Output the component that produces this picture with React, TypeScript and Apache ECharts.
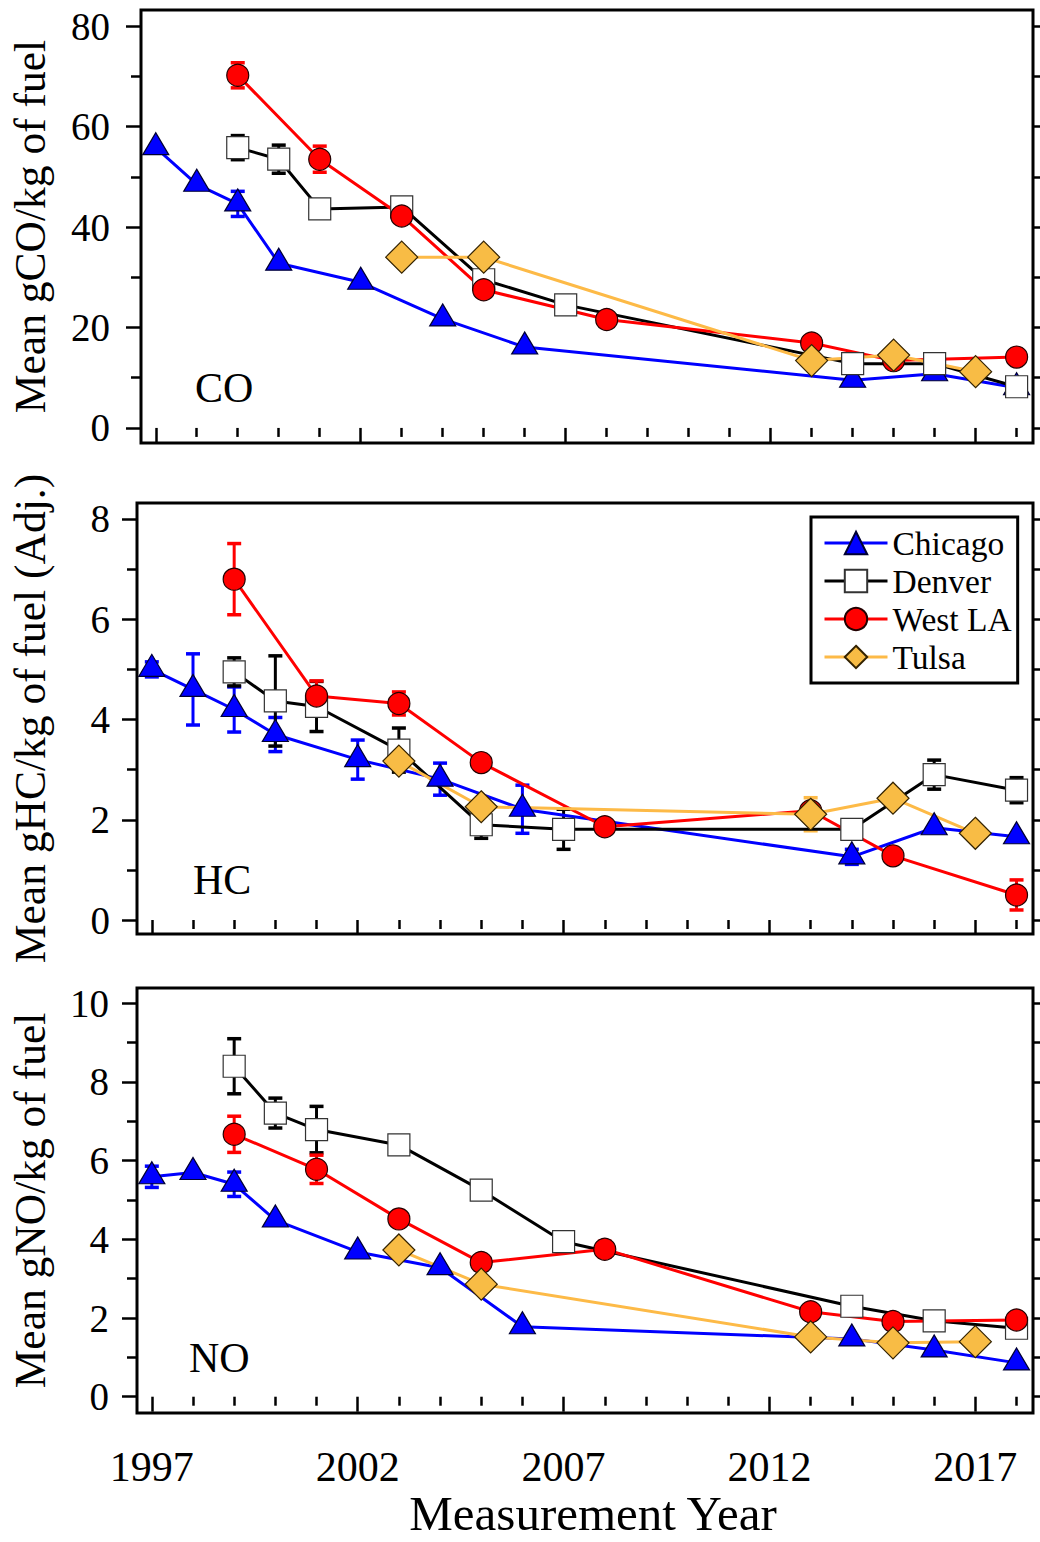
import React, { useEffect, useRef } from 'react';
import * as echarts from 'echarts';

// ---------- data ----------
const CITIES = ['Chicago', 'Denver', 'West LA', 'Tulsa'];

const CHICAGO_YEARS = [1997, 1998, 1999, 2000, 2002, 2004, 2006, 2014, 2016, 2018];
const DENVER_YEARS = [1999, 2000, 2001, 2003, 2005, 2007, 2014, 2016, 2018];
const WESTLA_YEARS = [1999, 2001, 2003, 2005, 2008, 2013, 2015, 2018];
const TULSA_YEARS = [2003, 2005, 2013, 2015, 2017];

// CO (g/kg)
const CHICAGO_CO = [55.8, 48.5, 44.6, 32.8, 29.0, 21.7, 16.1, 9.5, 10.8, 8.0];
const DENVER_CO = [55.8, 53.5, 43.6, 44.0, 29.5, 24.5, 12.8, 12.8, 8.2];
const WESTLA_CO = [70.2, 53.5, 42.2, 27.5, 21.6, 16.9, 13.4, 14.1];
const TULSA_CO = [34.0, 34.0, 13.4, 14.5, 11.2];
const CHICAGO_CO_ERR = [0, 0, 2.5, 0, 0, 0, 0, 0, 0, 0];
const DENVER_CO_ERR = [2.4, 2.8, 0, 0, 0, 0, 0, 0, 0];
const WESTLA_CO_ERR = [2.5, 2.6, 0, 0, 0, 0, 0, 0];
const TULSA_CO_ERR = [0, 0, 0, 0, 0];

// HC (g/kg, adj.)
const CHICAGO_HC = [5.0, 4.6, 4.2, 3.7, 3.2, 2.81, 2.21, 1.26, 1.84, 1.66];
const DENVER_HC = [4.95, 4.37, 4.26, 3.39, 1.9, 1.81, 1.81, 2.9, 2.59];
const WESTLA_HC = [6.8, 4.47, 4.32, 3.14, 1.86, 2.18, 1.28, 0.5];
const TULSA_HC = [3.17, 2.26, 2.11, 2.43, 1.73];
const CHICAGO_HC_ERR = [0.15, 0.71, 0.45, 0.34, 0.39, 0.32, 0.48, 0.15, 0, 0];
const DENVER_HC_ERR = [0.28, 0.9, 0.5, 0.44, 0.27, 0.4, 0, 0.29, 0.25];
const WESTLA_HC_ERR = [0.71, 0.3, 0.23, 0, 0, 0, 0, 0.3];
const TULSA_HC_ERR = [0, 0, 0.33, 0, 0];

// NO (g/kg)
const CHICAGO_NO = [5.59, 5.7, 5.4, 4.49, 3.68, 3.28, 1.78, 1.47, 1.19, 0.86];
const DENVER_NO = [8.4, 7.21, 6.79, 6.4, 5.25, 3.94, 2.3, 1.93, 1.74];
const WESTLA_NO = [6.67, 5.78, 4.52, 3.41, 3.75, 2.16, 1.91, 1.95];
const TULSA_NO = [3.73, 2.86, 1.52, 1.37, 1.4];
const CHICAGO_NO_ERR = [0.27, 0, 0.31, 0, 0, 0, 0, 0, 0, 0];
const DENVER_NO_ERR = [0.7, 0.38, 0.59, 0, 0, 0, 0, 0, 0];
const WESTLA_NO_ERR = [0.46, 0.36, 0, 0, 0.2, 0, 0, 0];
const TULSA_NO_ERR = [0, 0, 0, 0, 0];

// ticks
const YEAR_MAJOR = [1997, 2002, 2007, 2012, 2017];
const YEAR_MINOR = [1998, 1999, 2000, 2001, 2003, 2004, 2005, 2006, 2008, 2009, 2010, 2011, 2013, 2014, 2015, 2016, 2018];
const CO_MAJOR = [0, 20, 40, 60, 80];
const CO_MINOR = [10, 30, 50, 70];
const CO_ALL = [0, 10, 20, 30, 40, 50, 60, 70, 80];
const HC_MAJOR = [0, 2, 4, 6, 8];
const HC_MINOR = [1, 3, 5, 7];
const HC_ALL = [0, 1, 2, 3, 4, 5, 6, 7, 8];
const NO_MAJOR = [0, 2, 4, 6, 8, 10];
const NO_MINOR = [1, 3, 5, 7, 9];
const NO_ALL = [0, 1, 2, 3, 4, 5, 6, 7, 8, 9, 10];

const Y_TITLES = ['Mean gCO/kg of fuel', 'Mean gHC/kg of fuel (Adj.)', 'Mean gNO/kg of fuel'];
const PANEL_LABELS = ['CO', 'HC', 'NO'];
const X_TITLE = 'Measurement Year';

// ---------- styling ----------
const FONT = '"Liberation Serif", "Times New Roman", serif';
const COLORS = ['#0000FF', '#000000', '#FF0000', '#FDBA47'];
const FILLS = ['#0000FF', '#FFFFFF', '#FF0000', '#F8BC45'];
const SYMBOLS = ['triangle', 'rect', 'circle', 'diamond'];
const SYMBOL_SIZES: any[] = [[26, 22], 22, 22, 32];
const SYMBOL_OFFSETS: any[] = [[0, -4], [0, 0], [0, 0], [0, 0]];
const BORDER_COLORS = ['#000033', '#333333', '#220000', '#332200'];

const GRIDS = [
  { left: 141, top: 10, right: 7, height: 433 },
  { left: 137, top: 503, right: 7, height: 431 },
  { left: 136, top: 988, right: 7, height: 425 },
];
const Y_RANGES = [
  [-3, 83.2],
  [-0.279, 8.319],
  [-0.414, 10.389],
];
const Y_LABEL_MARGIN = [31, 27, 28];
const Y_NAME_GAP = [89, 85, 85];
const LABEL_POS = [
  [195, 388],
  [193, 880],
  [189, 1358],
];

export default function App() {
  const ref = useRef<HTMLDivElement>(null);

  useEffect(() => {
    if (!ref.current) return;
    const chart = echarts.init(ref.current, undefined, { renderer: 'svg' });

    const years = [CHICAGO_YEARS, DENVER_YEARS, WESTLA_YEARS, TULSA_YEARS];
    const panelVals = [
      [CHICAGO_CO, DENVER_CO, WESTLA_CO, TULSA_CO],
      [CHICAGO_HC, DENVER_HC, WESTLA_HC, TULSA_HC],
      [CHICAGO_NO, DENVER_NO, WESTLA_NO, TULSA_NO],
    ];
    const panelErrs = [
      [CHICAGO_CO_ERR, DENVER_CO_ERR, WESTLA_CO_ERR, TULSA_CO_ERR],
      [CHICAGO_HC_ERR, DENVER_HC_ERR, WESTLA_HC_ERR, TULSA_HC_ERR],
      [CHICAGO_NO_ERR, DENVER_NO_ERR, WESTLA_NO_ERR, TULSA_NO_ERR],
    ];
    const yTicks = [
      [CO_MAJOR, CO_MINOR, CO_ALL],
      [HC_MAJOR, HC_MINOR, HC_ALL],
      [NO_MAJOR, NO_MINOR, NO_ALL],
    ];

    const tickLine = { color: '#000', width: 2.5 };
    const xAxis: any[] = [];
    const yAxis: any[] = [];
    const series: any[] = [];

    for (let p = 0; p < 3; p++) {
      const isBottom = p === 2;
      xAxis.push({
        gridIndex: p,
        type: 'value',
        position: 'bottom',
        min: 1996.64,
        max: 2018.4,
        axisLine: { show: false },
        splitLine: { show: false },
        axisTick: { show: true, customValues: YEAR_MAJOR, length: 15, lineStyle: tickLine },
        axisLabel: isBottom
          ? {
              show: true,
              customValues: YEAR_MAJOR,
              formatter: (v: number) => String(v),
              fontFamily: FONT,
              fontSize: 42,
              color: '#000',
              margin: 33,
            }
          : { show: false },
        name: isBottom ? X_TITLE : '',
        nameLocation: 'middle',
        nameGap: 73,
        nameTextStyle: {
          fontFamily: FONT,
          fontSize: 49,
          lineHeight: 49,
          color: '#000',
          padding: [0, 0, 0, 16],
        },
      });
      xAxis.push({
        gridIndex: p,
        type: 'value',
        position: 'bottom',
        min: 1996.64,
        max: 2018.4,
        axisLine: { show: false },
        splitLine: { show: false },
        axisTick: { show: true, customValues: YEAR_MINOR, length: 9, lineStyle: tickLine },
        axisLabel: { show: false },
      });

      const [major, minor, all] = yTicks[p];
      const [ymin, ymax] = Y_RANGES[p];
      yAxis.push({
        gridIndex: p,
        type: 'value',
        position: 'left',
        min: ymin,
        max: ymax,
        axisLine: { show: false },
        splitLine: { show: false },
        axisTick: { show: true, customValues: major, length: 15, lineStyle: tickLine },
        axisLabel: {
          show: true,
          customValues: major,
          formatter: (v: number) => String(v),
          fontFamily: FONT,
          fontSize: 39,
          color: '#000',
          margin: Y_LABEL_MARGIN[p],
        },
        name: Y_TITLES[p],
        nameLocation: 'middle',
        nameGap: Y_NAME_GAP[p],
        nameTextStyle: { fontFamily: FONT, fontSize: 43.5, color: '#000' },
      });
      yAxis.push({
        gridIndex: p,
        type: 'value',
        position: 'left',
        min: ymin,
        max: ymax,
        axisLine: { show: false },
        splitLine: { show: false },
        axisTick: { show: true, customValues: minor, length: 10, lineStyle: tickLine },
        axisLabel: { show: false },
      });
      yAxis.push({
        gridIndex: p,
        type: 'value',
        position: 'right',
        min: ymin,
        max: ymax,
        axisLine: { show: false },
        splitLine: { show: false },
        axisTick: { show: true, customValues: all, length: 8, lineStyle: tickLine },
        axisLabel: { show: false },
      });

      for (let c = 0; c < 4; c++) {
        const ys = years[c];
        const vals = panelVals[p][c];
        const errs = panelErrs[p][c];
        const errData = ys
          .map((yr, i) => (errs[i] > 0 ? [yr, vals[i] - errs[i], vals[i] + errs[i]] : null))
          .filter((d) => d !== null);
        const color = COLORS[c];
        if (errData.length) {
          series.push({
            type: 'custom',
            name: CITIES[c] + ' error',
            xAxisIndex: 2 * p,
            yAxisIndex: 3 * p,
            data: errData,
            encode: { x: 0, y: [1, 2] },
            renderItem: (params: any, api: any) => {
              const x = api.value(0);
              const lo = api.coord([x, api.value(1)]);
              const hi = api.coord([x, api.value(2)]);
              const hw = 7;
              const style = { stroke: color, lineWidth: 3, fill: 'none' };
              const capStyle = { stroke: color, lineWidth: 3.5, fill: 'none' };
              return {
                type: 'group',
                children: [
                  { type: 'line', shape: { x1: lo[0], y1: lo[1], x2: hi[0], y2: hi[1] }, style },
                  { type: 'line', shape: { x1: lo[0] - hw, y1: lo[1], x2: lo[0] + hw, y2: lo[1] }, style: capStyle },
                  { type: 'line', shape: { x1: hi[0] - hw, y1: hi[1], x2: hi[0] + hw, y2: hi[1] }, style: capStyle },
                ],
              };
            },
          });
        }
        series.push({
          type: 'line',
          name: CITIES[c],
          xAxisIndex: 2 * p,
          yAxisIndex: 3 * p,
          data: ys.map((yr, i) => [yr, vals[i]]),
          symbol: SYMBOLS[c],
          symbolSize: SYMBOL_SIZES[c],
          symbolOffset: SYMBOL_OFFSETS[c],
          showSymbol: true,
          lineStyle: { color, width: 3 },
          itemStyle: { color: FILLS[c], borderColor: BORDER_COLORS[c], borderWidth: 1.2, opacity: 1 },
          emphasis: { disabled: true },
        });
      }
    }

    const option: any = {
      animation: false,
      backgroundColor: '#fff',
      grid: GRIDS.map((g) => ({
        ...g,
        show: true,
        borderColor: '#000',
        borderWidth: 3,
        backgroundColor: 'transparent',
      })),
      xAxis,
      yAxis,
      legend: {
        data: CITIES,
        orient: 'vertical',
        left: 811,
        top: 517,
        itemWidth: 63,
        itemHeight: 28,
        itemGap: 4,
        padding: [9, 6, 9, 12],
        backgroundColor: '#fff',
        borderColor: '#000',
        borderWidth: 3,
        borderRadius: 0,
        lineStyle: { width: 3 },
        textStyle: { fontFamily: FONT, fontSize: 33.5, color: '#000' },
        selectedMode: false,
      },
      graphic: PANEL_LABELS.map((t, i) => ({
        type: 'text',
        x: LABEL_POS[i][0],
        y: LABEL_POS[i][1],
        style: {
          text: t,
          font: `42px ${FONT}`,
          fill: '#000',
          align: 'left',
          verticalAlign: 'middle',
        },
      })),
      series,
    };

    chart.setOption(option);
    return () => chart.dispose();
  }, []);

  return (
    <div
      ref={ref}
      style={{ position: 'absolute', left: 0, top: 0, width: 1040, height: 1542, background: '#fff' }}
    />
  );
}
